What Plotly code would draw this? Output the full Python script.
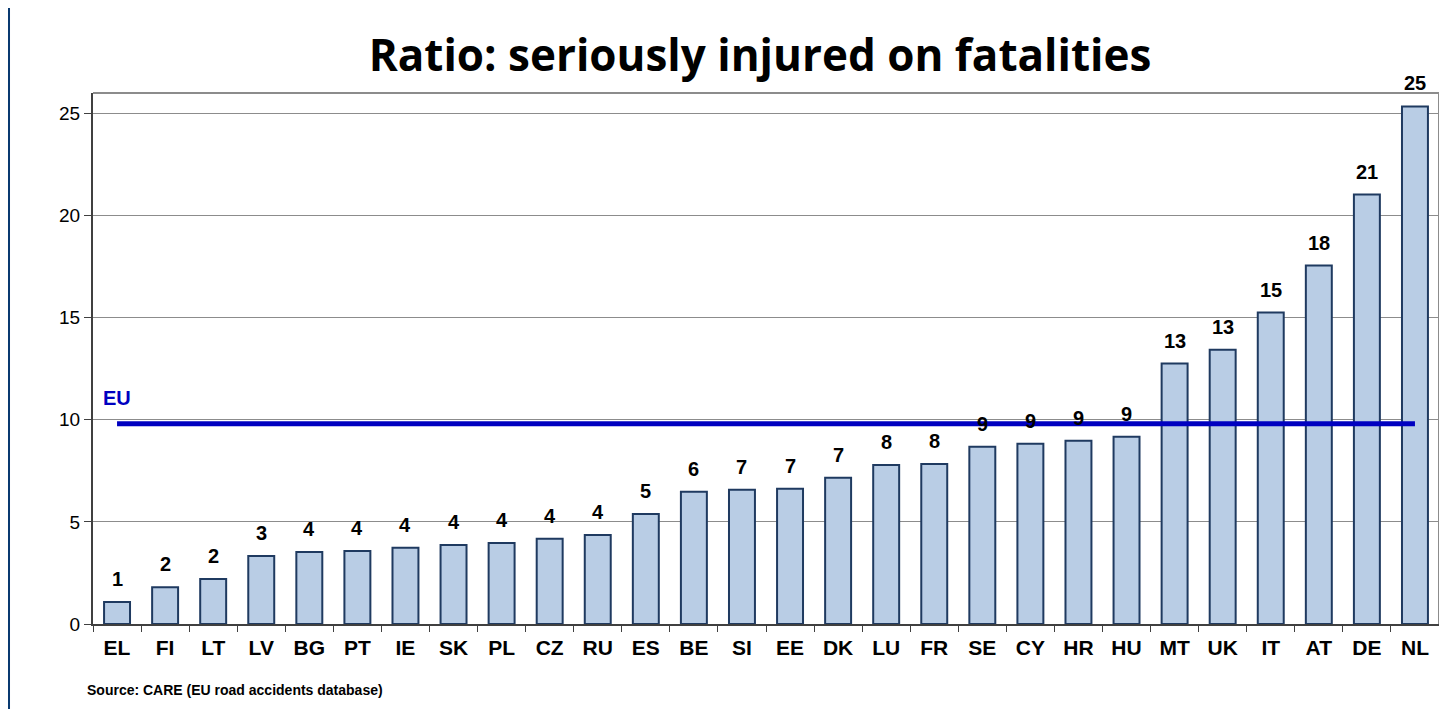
import plotly.graph_objects as go

# ── Data ──────────────────────────────────────────────────────────────────────
countries = ["EL", "FI", "LT", "LV", "BG", "PT", "IE", "SK", "PL", "CZ", "RU", "ES",
             "BE", "SI", "EE", "DK", "LU", "FR", "SE", "CY", "HR", "HU", "MT", "UK",
             "IT", "AT", "DE", "NL"]
ratio = [1.08, 1.8, 2.2, 3.33, 3.53, 3.58, 3.73, 3.87, 3.97, 4.17, 4.36, 5.39,
         6.47, 6.57, 6.62, 7.16, 7.79, 7.84, 8.68, 8.82, 8.97, 9.17, 12.75, 13.43,
         15.25, 17.55, 21.03, 25.34]
labels = ["1", "2", "2", "3", "4", "4", "4", "4", "4", "4", "4", "5",
          "6", "7", "7", "7", "8", "8", "9", "9", "9", "9", "13", "13",
          "15", "18", "21", "25"]
eu_value = 9.8
y_ticks = [0, 5, 10, 15, 20, 25]

# ── Colours ───────────────────────────────────────────────────────────────────
BAR_FILL = "#b9cde5"
BAR_LINE = "#1f3a60"
EU_CLR = "#0000c0"
GRID_CLR = "#8c8c8c"
AXIS_CLR = "#404040"
SLIDE_BLUE = "#1261b4"
ARIAL = "Liberation Sans, Arial"

fig = go.Figure()

fig.add_trace(go.Bar(
    x=countries, y=ratio, width=0.54,
    marker=dict(color=BAR_FILL, line=dict(color=BAR_LINE, width=2)),
    showlegend=False, hoverinfo="x+y",
))

# EU average line
fig.add_trace(go.Scatter(
    x=[countries[0], countries[-1]], y=[eu_value, eu_value],
    mode="lines", line=dict(color=EU_CLR, width=5),
    showlegend=False, hoverinfo="skip",
))

# value labels
for c, v, t in zip(countries, ratio, labels):
    fig.add_annotation(
        x=c, y=v, text=t, showarrow=False, yanchor="bottom", yshift=10,
        font=dict(family=ARIAL, size=20, color="black", weight="bold"),
    )

fig.add_annotation(
    x=countries[0], y=eu_value, text="EU", showarrow=False, yanchor="bottom", yshift=13,
    font=dict(family=ARIAL, size=20, color=EU_CLR, weight="bold"),
)

# slide background: white card on blue
fig.add_shape(
    type="rect", xref="paper", yref="paper", layer="below",
    x0=-0.0624, x1=1.01, y0=-0.2, y1=1.2,
    fillcolor="white", line=dict(color="#0a3a70", width=2),
)

fig.add_annotation(
    xref="paper", yref="paper", x=-0.006, y=-0.124, xanchor="left", yanchor="middle",
    text="Source: CARE (EU road accidents database)", showarrow=False,
    font=dict(family=ARIAL, size=14, color="black", weight="bold"),
)

fig.update_layout(
    width=1439, height=701,
    paper_bgcolor=SLIDE_BLUE, plot_bgcolor="white",
    margin=dict(l=85, r=8, t=85, b=85),
    title=dict(
        text="Ratio: seriously injured on fatalities",
        x=0.5226, xanchor="center", y=0.932, yanchor="middle",
        font=dict(family="Open Sans", size=44, color="black", weight="bold"),
    ),
)
fig.update_xaxes(
    type="category", tickson="boundaries", ticks="outside", ticklen=6,
    tickcolor=AXIS_CLR, showline=True, linecolor=AXIS_CLR, linewidth=2,
    showgrid=False, ticklabelstandoff=4,
    tickfont=dict(family=ARIAL, size=21, color="black", weight="bold"),
)
fig.update_yaxes(
    range=[0, 26], tickvals=y_ticks, ticks="outside", ticklen=7, tickcolor=AXIS_CLR,
    showline=True, linecolor=AXIS_CLR, linewidth=2,
    showgrid=True, gridcolor=GRID_CLR, gridwidth=1, zeroline=False,
    tickfont=dict(family=ARIAL, size=19, color="black"),
)
# top and right border of plot area
fig.add_shape(type="line", xref="paper", yref="paper", x0=0, x1=1, y0=1, y1=1,
              line=dict(color=GRID_CLR, width=2))
fig.add_shape(type="line", xref="paper", yref="paper", x0=1, x1=1, y0=0, y1=1,
              line=dict(color=GRID_CLR, width=2))

fig.write_html("out.html")
